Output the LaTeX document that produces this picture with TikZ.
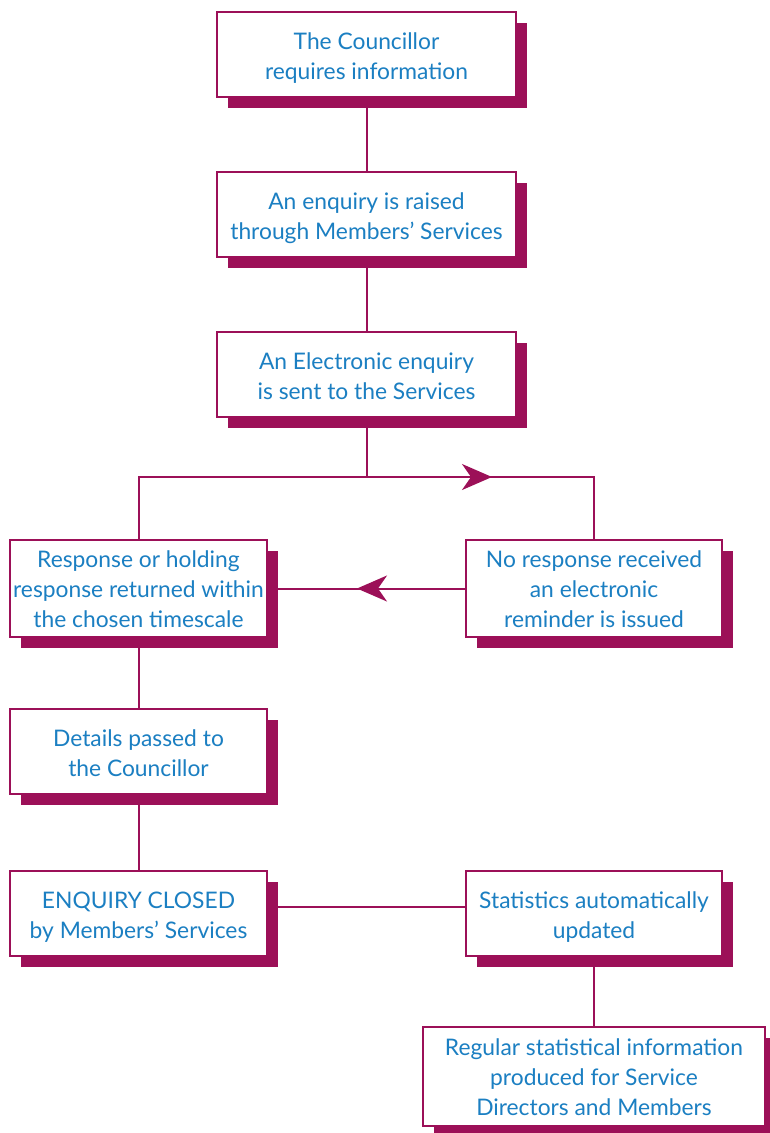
\documentclass[tikz,border=0pt]{standalone}
\usepackage{fontspec}
\setmainfont{Lato}
\usetikzlibrary{arrows.meta,shadows}
\definecolor{mag}{HTML}{9C1058}
\definecolor{txt}{HTML}{1B7FC2}
\tikzset{
  box/.style={draw=mag, line width=2pt, fill=white, inner sep=0pt, align=center,
    text=txt, font=\fontsize{22.8}{30}\selectfont, text height=54pt, text depth=4.5pt,
    general shadow={fill=mag, shadow xshift=11pt, shadow yshift=-11pt}},
  box3/.style={box, text height=84pt, text depth=5.5pt},
  conn/.style={draw=mag, line width=2pt},
  tip/.style={conn, -{Stealth[length=30pt,width=26pt,inset=9pt]}}
}
\begin{document}
\begin{tikzpicture}[x=1pt,y=-1pt]
\useasboundingbox (0,0) rectangle (770,1133);
\node[box, minimum width=299pt, minimum height=85pt] (b1) at (366.5,54.5) {The Councillor\\requires information};
\node[box, minimum width=299pt, minimum height=85pt] (b2) at (366.5,214.5) {An enquiry is raised\\through Members’ Services};
\node[box, minimum width=299pt, minimum height=85pt] (b3) at (366.5,374.5) {An Electronic enquiry\\is sent to the Services};
\node[box3, minimum width=257pt, minimum height=97pt] (b4) at (138.5,588.5) {Response or holding\\response returned within\\the chosen timescale};
\node[box3, minimum width=256pt, minimum height=97pt] (b5) at (594,588.5) {No response received\\an electronic\\reminder is issued};
\node[box, minimum width=257pt, minimum height=85pt] (b6) at (138.5,751.5) {Details passed to\\the Councillor};
\node[box, minimum width=257pt, minimum height=85pt] (b7) at (138.5,913.5) {ENQUIRY CLOSED\\by Members’ Services};
\node[box, minimum width=256pt, minimum height=85pt] (b8) at (594,913.5) {Statistics automatically\\updated};
\node[box3, minimum width=342pt, minimum height=99pt] (b9) at (594,1076.5) {Regular statistical information\\produced for Service\\Directors and Members};
\coordinate (j) at (366.5,477);
\coordinate (t1) at (492,477);
\coordinate (t2) at (357,588.5);
\draw[conn] (b1.south) -- (b2.north);
\draw[conn] (b2.south) -- (b3.north);
\draw[conn] (b3.south) -- (j);
\draw[conn] (j) -| (b4.north);
\draw[conn] (j) -| (b5.north);
\draw[tip] (j) -- (t1);
\draw[conn] (b5.west) -- (b4.east);
\draw[tip] (b5.west) -- (t2);
\draw[conn] (b4.south) -- (b6.north);
\draw[conn] (b6.south) -- (b7.north);
\draw[conn] ([yshift=7pt]b7.east) -- ([yshift=7pt]b8.west);
\draw[conn] (b8.south) -- (b9.north);
\end{tikzpicture}
\end{document}
